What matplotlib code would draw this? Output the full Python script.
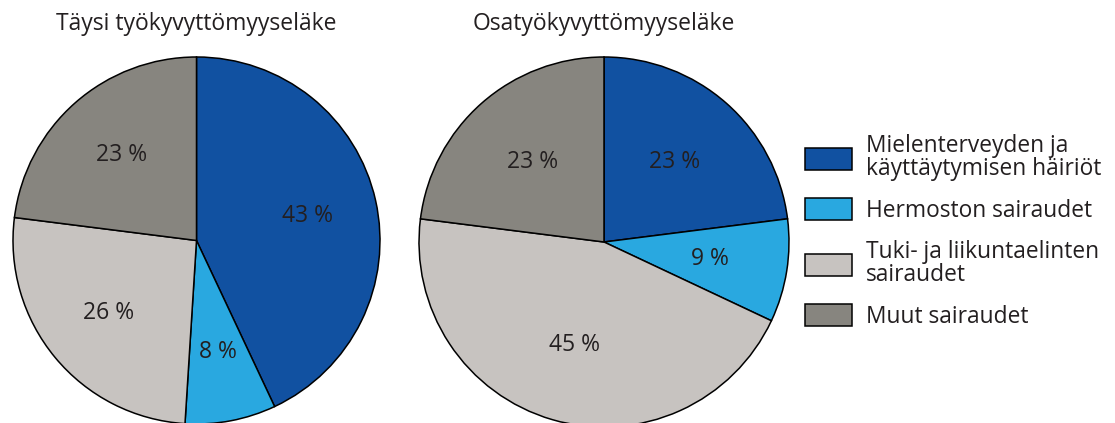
import matplotlib.pyplot as plt
from matplotlib.patches import Patch

plt.rcParams['font.family'] = ['Open Sans', 'DejaVu Sans']
plt.rcParams['text.color'] = '#231f20'

titles = ['Täysi työkyvyttömyyseläke', 'Osatyökyvyttömyyseläke']
categories = ['Mielenterveyden ja\nkäyttäytymisen häiriöt', 'Hermoston sairaudet',
              'Tuki- ja liikuntaelinten\nsairaudet', 'Muut sairaudet']
full_values = [43, 8, 26, 23]
partial_values = [23, 9, 45, 23]
colors = ['#1151a1', '#29a8e0', '#c7c3c0', '#87857f']

W, H = 1115, 423
fig = plt.figure(figsize=(W / 100, H / 100), dpi=100)
ax = fig.add_axes([0, 0, 1, 1])

pies = [(full_values, (196.5, H - 240.5), 183.5, 0.62),
        (partial_values, (604, H - 242), 185, 0.58)]
for (vals, center, r, pd), title in zip(pies, titles):
    wedges, texts, autotexts = ax.pie(
        vals, colors=colors, startangle=90, counterclock=False,
        center=center, radius=r, autopct=lambda p: f'{p:.0f} %',
        pctdistance=pd, wedgeprops=dict(edgecolor='black', linewidth=1.1),
        textprops=dict(fontsize=16.5, color='#231f20'), frame=True)
    ax.text(center[0], H - 24, title, ha='center', va='center', fontsize=16.5)

ax.set_xlim(0, W)
ax.set_ylim(0, H)
ax.set_aspect('equal')
ax.axis('off')

handles = [Patch(facecolor=c, edgecolor='black', linewidth=1.1) for c in colors]
leg = fig.legend(handles, categories, loc='upper left', bbox_to_anchor=(805 / W, 1 - 134 / H),
                 frameon=False, fontsize=16.4, handlelength=2.06, handleheight=1.1,
                 handletextpad=0.62, labelspacing=0.75, borderaxespad=0, borderpad=0)
for t in leg.get_texts():
    t.set_linespacing(0.95)

fig.savefig('out.png', dpi=100)
